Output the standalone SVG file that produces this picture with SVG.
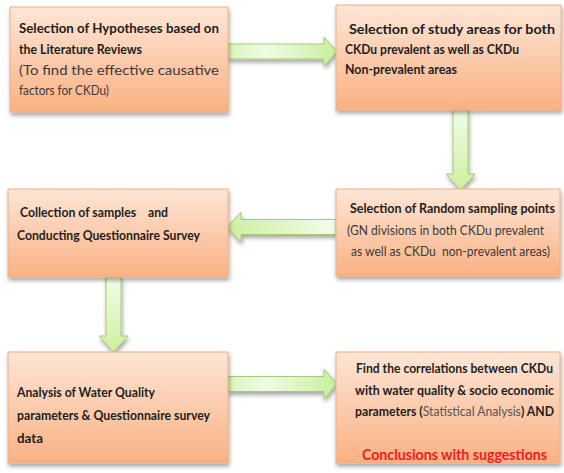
<svg xmlns="http://www.w3.org/2000/svg" width="564" height="473" viewBox="0 0 564 473">
<defs>
<linearGradient id="boxg" x1="0" y1="0" x2="0" y2="1">
<stop offset="0" stop-color="#fde6d7"/>
<stop offset="1" stop-color="#fab183"/>
</linearGradient>
<linearGradient id="gR" x1="0" y1="0" x2="1" y2="0">
<stop offset="0" stop-color="#d9f5bb"/>
<stop offset="0.35" stop-color="#effce4"/>
<stop offset="1" stop-color="#c9ee9b"/>
</linearGradient>
<linearGradient id="gL" x1="1" y1="0" x2="0" y2="0">
<stop offset="0" stop-color="#f2fde9"/>
<stop offset="1" stop-color="#cdef9f"/>
</linearGradient>
<linearGradient id="gD" x1="0" y1="0" x2="0" y2="1">
<stop offset="0" stop-color="#f2fde9"/>
<stop offset="1" stop-color="#cdef9f"/>
</linearGradient>
<filter id="sh" x="-10%" y="-10%" width="125%" height="130%">
<feDropShadow dx="1" dy="3" stdDeviation="2" flood-color="#000" flood-opacity="0.35"/>
</filter>
</defs>
<style>
.box{fill:url(#boxg);stroke:#f4ad80;stroke-width:1;filter:url(#sh)}
.arr{stroke:#a3cd76;stroke-width:1;filter:url(#sh)}
text{font-family:Lato,"Open Sans","Liberation Sans",sans-serif;font-size:13px;fill:#1e1e1e}
.b{font-weight:bold}
.r{fill:#3a3a3a}
.s{font-size:12.5px}
.g{fill:#555;font-weight:normal}
.red{fill:#ee1c24;font-size:15px;font-weight:bold}
</style>

<g id="connectors">
<polygon class="arr" fill="url(#gR)" points="228,44 324,44 324,37 337,51.5 324,66 324,59 228,59"/>
<polygon class="arr" fill="url(#gD)" points="453,110 468,110 468,174 475,174 460.5,190 446,174 453,174"/>
<polygon class="arr" fill="url(#gL)" points="336,219.5 241,219.5 241,212 227,227 241,242 241,234.5 336,234.5"/>
<polygon class="arr" fill="url(#gD)" points="106,277 121,277 121,336 128,336 113.5,352 99,336 106,336"/>
<polygon class="arr" fill="url(#gR)" points="228,376.5 324,376.5 324,369 337,384 324,399 324,391.5 228,391.5"/>
</g>

<g id="n1">
<rect class="box" x="10" y="7" width="218" height="105"/>
<text class="b" x="19" y="33" textLength="200" lengthAdjust="spacingAndGlyphs">Selection of Hypotheses based on</text>
<text class="b" x="19" y="54" textLength="123" lengthAdjust="spacingAndGlyphs">the Literature Reviews</text>
<text class="r" x="19" y="75" textLength="200" lengthAdjust="spacingAndGlyphs">(To find the effective causative</text>
<text class="r" x="19" y="95" textLength="90" lengthAdjust="spacingAndGlyphs">factors for CKDu)</text>
</g>

<g id="n2">
<rect class="box" x="336" y="5" width="225" height="105"/>
<text class="b" x="349" y="34" textLength="206" lengthAdjust="spacingAndGlyphs">Selection of study areas for both</text>
<text class="b" x="345" y="54" textLength="174" lengthAdjust="spacingAndGlyphs">CKDu prevalent as well as CKDu</text>
<text class="b" x="345" y="74" textLength="112" lengthAdjust="spacingAndGlyphs">Non-prevalent areas</text>
</g>

<g id="n3">
<rect class="box" x="8" y="189" width="220" height="88"/>
<text class="b" x="20" y="217" textLength="148" lengthAdjust="spacingAndGlyphs" xml:space="preserve">Collection of samples    and</text>
<text class="b" x="17" y="240" textLength="183" lengthAdjust="spacingAndGlyphs">Conducting Questionnaire Survey</text>
</g>

<g id="n4">
<rect class="box" x="336" y="189" width="224" height="87"/>
<text class="b" x="350" y="213" textLength="205" lengthAdjust="spacingAndGlyphs">Selection of Random sampling points</text>
<text class="r" x="347" y="235" textLength="197" lengthAdjust="spacingAndGlyphs">(GN divisions in both CKDu prevalent</text>
<text class="r" x="351" y="256" textLength="199" lengthAdjust="spacingAndGlyphs" xml:space="preserve">as well as CKDu  non-prevalent areas)</text>
</g>

<g id="n5">
<rect class="box" x="8" y="352" width="220" height="111"/>
<text class="b" x="17" y="397" textLength="138" lengthAdjust="spacingAndGlyphs">Analysis of Water Quality</text>
<text class="b" x="17" y="420" textLength="193" lengthAdjust="spacingAndGlyphs">parameters &amp; Questionnaire survey</text>
<text class="b" x="17" y="443" textLength="26" lengthAdjust="spacingAndGlyphs">data</text>
</g>

<g id="n6">
<rect class="box" x="336" y="352" width="224" height="111"/>
<text class="b s" x="356" y="373" textLength="197" lengthAdjust="spacingAndGlyphs">Find the correlations between CKDu</text>
<text class="b s" x="355" y="395" textLength="199" lengthAdjust="spacingAndGlyphs">with water quality &amp; socio economic</text>
<text class="b s" x="355" y="416" textLength="199" lengthAdjust="spacingAndGlyphs">parameters (<tspan class="g">Statistical Analysis</tspan>) AND</text>
<text class="red" x="362" y="460" textLength="185" lengthAdjust="spacingAndGlyphs">Conclusions with suggestions</text>
</g>
</svg>
